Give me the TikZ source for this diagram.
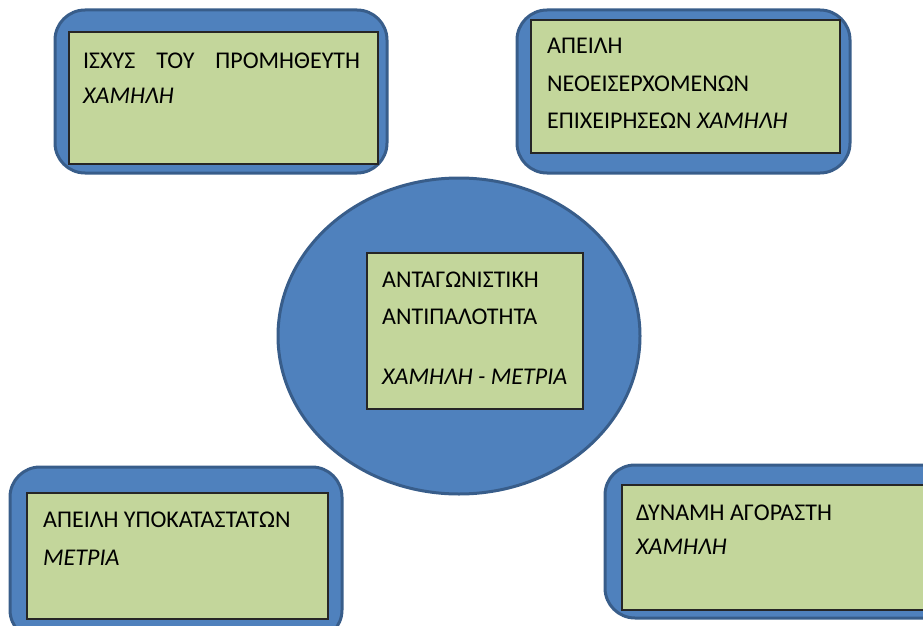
\documentclass[tikz,border=0pt]{standalone}
\usepackage{fontspec}
\setmainfont{Carlito}
\definecolor{bluefill}{HTML}{4F81BD}
\definecolor{blueline}{HTML}{385D8A}
\definecolor{greenfill}{HTML}{C3D69B}
\tikzset{
  outerbox/.style={draw=blueline, fill=bluefill, line width=3pt, rounded corners=30pt},
  innerbox/.style={draw=black!85, fill=greenfill, line width=1.3pt},
  txt/.style={anchor=base west, inner sep=0pt, font=\fontsize{24}{28}\selectfont, text=black}
}
\begin{document}
\begin{tikzpicture}[x=1pt,y=-1pt]
\useasboundingbox (0,0) rectangle (923,626);
% top-left
\draw[outerbox] (55,10) rectangle (387,173);
\draw[innerbox] (69,32) rectangle (378,164);
\node[txt] (tl1) at (83,68) {\makebox[277pt][s]{ΙΣΧΥΣ\hfill ΤΟΥ\hfill ΠΡΟΜΗΘΕΥΤΗ}};
\node[txt] (tl2) at (83,103) {\itshape ΧΑΜΗΛΗ};
% top-right
\draw[outerbox] (517,10) rectangle (850,173);
\draw[innerbox] (531,20) rectangle (840,153);
\node[txt] (tr1) at (547,53) {ΑΠΕΙΛΗ};
\node[txt] (tr2) at (547,91) {ΝΕΟΕΙΣΕΡΧΟΜΕΝΩΝ};
\node[txt] (tr3) at (547,128) {ΕΠΙΧΕΙΡΗΣΕΩΝ \textit{ΧΑΜΗΛΗ}};
% center
\draw[draw=blueline, fill=bluefill, line width=3pt] (459,336) ellipse [x radius=181, y radius=158];
\draw[innerbox] (367,253) rectangle (583,409);
\node[txt] (c1) at (382,287) {ΑΝΤΑΓΩΝΙΣΤΙΚΗ};
\node[txt] (c2) at (382,324) {ΑΝΤΙΠΑΛΟΤΗΤΑ};
\node[txt] (c3) at (382,384) {\itshape ΧΑΜΗΛΗ - ΜΕΤΡΙΑ};
% bottom-left
\draw[outerbox] (10,467) rectangle (342,640);
\draw[innerbox] (27,493) rectangle (328,619);
\node[txt] (bl1) at (43,527) {ΑΠΕΙΛΗ ΥΠΟΚΑΤΑΣΤΑΤΩΝ};
\node[txt] (bl2) at (43,565) {\itshape ΜΕΤΡΙΑ};
% bottom-right
\draw[outerbox] (605,465) rectangle (960,618);
\draw[innerbox] (622,485) rectangle (940,610);
\node[txt] (br1) at (636,520) {ΔΥΝΑΜΗ ΑΓΟΡΑΣΤΗ};
\node[txt] (br2) at (636,554) {\itshape ΧΑΜΗΛΗ};
\end{tikzpicture}
\end{document}
